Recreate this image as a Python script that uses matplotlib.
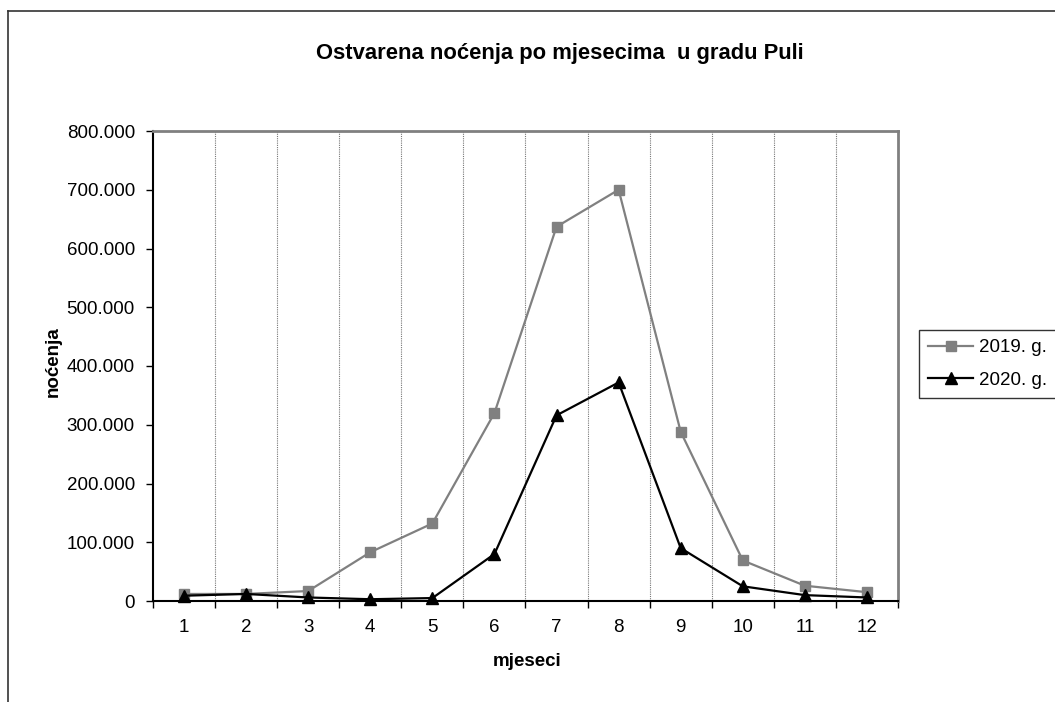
import matplotlib.pyplot as plt
from matplotlib.lines import Line2D
from matplotlib.ticker import FuncFormatter, FixedLocator

plt.rcParams['font.family'] = ['Liberation Sans', 'DejaVu Sans']

# data
mjeseci = [1, 2, 3, 4, 5, 6, 7, 8, 9, 10, 11, 12]
nocenja_2019 = [12000, 12000, 17000, 83000, 132000, 320000, 637000, 700000, 288000, 69000, 26000, 15000]
nocenja_2020 = [9000, 12000, 6000, 3000, 5000, 80000, 316000, 372000, 90000, 25000, 10000, 6000]
yticks = [0, 100000, 200000, 300000, 400000, 500000, 600000, 700000, 800000]

fig = plt.figure(figsize=(10.55, 7.02), dpi=100)
ax = fig.add_axes([153/1055, 101/702, 745/1055, 470/702])

# outer frame of the chart (only left and top visible)
fig.add_artist(Line2D([8/1055, 8/1055], [0, 1 - 11/702], transform=fig.transFigure, color='#333333', lw=1.2))
fig.add_artist(Line2D([8/1055, 1], [1 - 11/702, 1 - 11/702], transform=fig.transFigure, color='#333333', lw=1.2))

ax.plot(mjeseci, nocenja_2019, color='#808080', lw=1.6, marker='s', ms=7.5,
        markerfacecolor='#808080', markeredgecolor='#808080', label='2019. g.', clip_on=False, zorder=3)
ax.plot(mjeseci, nocenja_2020, color='black', lw=1.6, marker='^', ms=8.5,
        markerfacecolor='black', markeredgecolor='black', label='2020. g.', clip_on=False, zorder=4)

ax.set_xlim(0.5, 12.5)
ax.set_ylim(0, 800000)

# category boundaries: ticks + dotted grid
bounds = [m + 0.5 for m in mjeseci[:-1]]
ax.xaxis.set_major_locator(FixedLocator([0.5] + bounds + [12.5]))
ax.tick_params(axis='x', which='major', length=5, width=1, labelbottom=False, direction='out')
ax.set_xticks(mjeseci, minor=True)
ax.set_xticklabels([str(m) for m in mjeseci], minor=True)
ax.tick_params(axis='x', which='minor', length=0, labelsize=13.5, pad=13)
for b in bounds:
    ax.axvline(b, color='#777777', lw=0.8, ls=(0, (1, 1)), zorder=1)

ax.set_yticks(yticks)
ax.yaxis.set_major_formatter(FuncFormatter(lambda v, p: f"{v:,.0f}".replace(",", ".")))
ax.tick_params(axis='y', length=5, width=1, labelsize=13.5, pad=8, direction='out')

ax.spines['left'].set_color('black')
ax.spines['left'].set_linewidth(1.5)
ax.spines['bottom'].set_color('black')
ax.spines['bottom'].set_linewidth(1.5)
ax.spines['top'].set_color('#808080')
ax.spines['top'].set_linewidth(2)
ax.spines['right'].set_color('#808080')
ax.spines['right'].set_linewidth(2)

fig.text(560/1055, 1 - 54/702, 'Ostvarena noćenja po mjesecima  u gradu Puli',
         ha='center', va='center', fontsize=15.8, fontweight='bold')
fig.text(527/1055, 1 - 661/702, 'mjeseci', ha='center', va='center', fontsize=13.5, fontweight='bold')
fig.text(53/1055, 1 - 362/702, 'noćenja', ha='center', va='center', rotation=90,
         fontsize=13.5, fontweight='bold')

leg = fig.legend(loc='center', bbox_to_anchor=(987.5/1055, 1 - 364/702), fontsize=13.5,
                 frameon=True, fancybox=False, handlelength=2.4, borderpad=0.5,
                 labelspacing=0.8, handletextpad=0.3, borderaxespad=0)
leg.get_frame().set_edgecolor('black')
leg.get_frame().set_linewidth(1)

fig.savefig('out.png', dpi=100)
